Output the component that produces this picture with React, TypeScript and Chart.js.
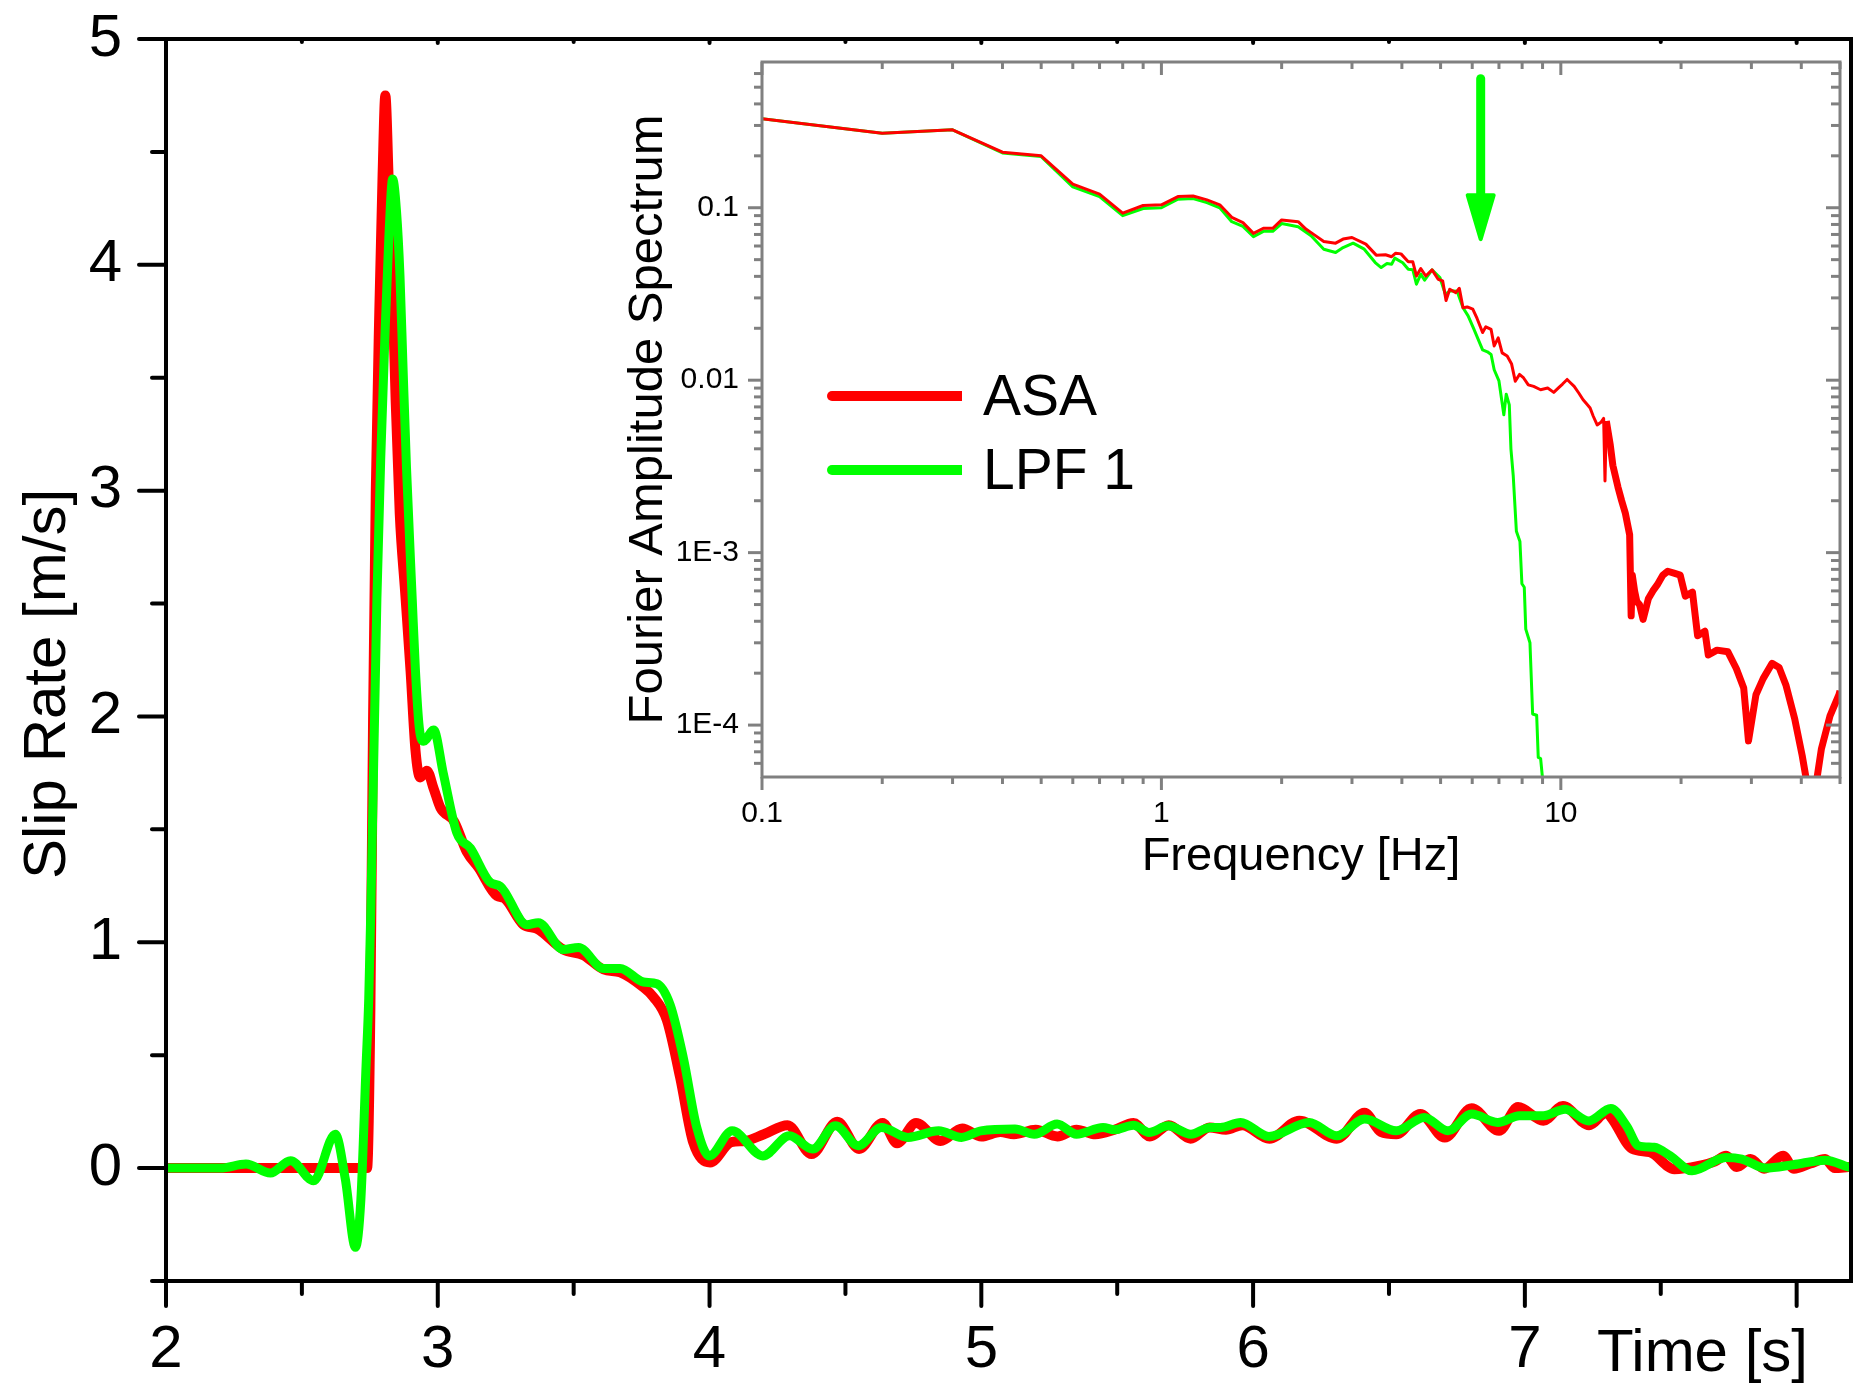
import React, { useEffect, useRef } from "react";
import { Chart, registerables } from "chart.js";

Chart.register(...registerables);

const W = 1853;
const H = 1385;
const FONT = "'Liberation Sans', Arial, Helvetica, sans-serif";
const RED = "#ff0000";
const GREEN = "#00ff00";

// ---------- Main chart: slip rate vs time ----------
const seriesLabels = ["ASA", "LPF 1"];
const mainXTitle = "Time [s]";
const mainYTitle = "Slip Rate [m/s]";

const asaTime = [2.0, 2.3, 2.6, 2.74, 2.752, 2.762, 2.772, 2.785, 2.797, 2.807, 2.82, 2.832, 2.845, 2.86, 2.88, 2.9, 2.918, 2.935, 2.96, 2.985, 3.01, 3.06, 3.107, 3.15, 3.218, 3.243, 3.315, 3.365, 3.462, 3.536, 3.61, 3.671, 3.757, 3.794, 3.843, 3.892, 3.94, 4.002, 4.08, 4.13, 4.2, 4.287, 4.375, 4.47, 4.55, 4.637, 4.69, 4.76, 4.85, 4.93, 5.0, 5.07, 5.12, 5.2, 5.28, 5.35, 5.42, 5.49, 5.56, 5.62, 5.69, 5.77, 5.84, 5.9, 5.96, 6.06, 6.17, 6.308, 6.41, 6.47, 6.527, 6.615, 6.705, 6.804, 6.905, 6.975, 7.068, 7.14, 7.236, 7.3, 7.32, 7.395, 7.46, 7.55, 7.64, 7.7, 7.74, 7.78, 7.83, 7.88, 7.95, 7.99, 8.05, 8.105, 8.14, 8.19];
const asaRate = [0, 0, 0, 0, 0.7, 2.0, 3.0, 3.8, 4.4, 4.75, 4.35, 3.95, 3.4, 2.9, 2.55, 2.2, 1.85, 1.73, 1.76, 1.68, 1.595, 1.535, 1.4, 1.33, 1.205, 1.197, 1.078, 1.06, 0.968, 0.943, 0.88, 0.867, 0.8, 0.757, 0.655, 0.4, 0.113, 0.025, 0.115, 0.12, 0.15, 0.19, 0.062, 0.205, 0.085, 0.2, 0.11, 0.2, 0.12, 0.175, 0.14, 0.16, 0.15, 0.17, 0.14, 0.17, 0.15, 0.17, 0.2, 0.14, 0.19, 0.13, 0.18, 0.17, 0.19, 0.13, 0.21, 0.13, 0.245, 0.16, 0.15, 0.24, 0.135, 0.265, 0.165, 0.27, 0.21, 0.275, 0.19, 0.245, 0.22, 0.085, 0.07, -0.005, 0.01, 0.03, 0.055, 0.005, 0.04, -0.003, 0.055, -0.003, 0.02, 0.04, 0.0, 0.005];

const lpfTime = [2.0, 2.1, 2.2, 2.294, 2.384, 2.458, 2.543, 2.623, 2.66, 2.697, 2.717, 2.736, 2.746, 2.754, 2.776, 2.79, 2.806, 2.82, 2.834, 2.848, 2.861, 2.872, 2.885, 2.906, 2.918, 2.932, 2.948, 2.985, 3.02, 3.07, 3.12, 3.193, 3.23, 3.328, 3.37, 3.462, 3.518, 3.61, 3.671, 3.757, 3.806, 3.855, 3.904, 3.953, 3.999, 4.083, 4.196, 4.294, 4.379, 4.463, 4.547, 4.632, 4.73, 4.843, 4.927, 4.998, 5.124, 5.195, 5.279, 5.35, 5.448, 5.49, 5.56, 5.617, 5.687, 5.771, 5.842, 5.88, 5.954, 6.058, 6.206, 6.308, 6.41, 6.527, 6.63, 6.717, 6.804, 6.9, 6.98, 7.068, 7.148, 7.236, 7.316, 7.374, 7.418, 7.476, 7.535, 7.615, 7.739, 7.798, 7.885, 7.988, 8.105, 8.19];
const lpfRate = [0, 0, 0, 0.018, -0.022, 0.033, -0.056, 0.15, -0.05, -0.351, -0.14, 0.45, 0.75, 1.16, 2.52, 3.14, 3.7, 4.12, 4.38, 4.24, 3.95, 3.55, 3.1, 2.52, 2.2, 1.95, 1.89, 1.94, 1.75, 1.485, 1.417, 1.265, 1.248, 1.078, 1.087, 0.968, 0.977, 0.884, 0.884, 0.824, 0.816, 0.723, 0.486, 0.18, 0.054, 0.165, 0.054, 0.143, 0.084, 0.187, 0.099, 0.18, 0.136, 0.165, 0.136, 0.165, 0.173, 0.15, 0.195, 0.15, 0.18, 0.17, 0.19, 0.158, 0.187, 0.15, 0.18, 0.18, 0.202, 0.14, 0.202, 0.143, 0.217, 0.165, 0.224, 0.165, 0.239, 0.202, 0.232, 0.232, 0.261, 0.209, 0.264, 0.187, 0.099, 0.092, 0.054, -0.012, 0.047, 0.04, 0.0, 0.015, 0.035, 0.005];

const timeTicks = [2, 3, 4, 5, 6, 7, 8];
const timeTickLabels = ["2", "3", "4", "5", "6", "7", ""];
const timeMinorTicks = [2.5, 3.5, 4.5, 5.5, 6.5, 7.5];
const rateTicks = [0, 1, 2, 3, 4, 5];
const rateTickLabels = ["0", "1", "2", "3", "4", "5"];
const rateMinorTicks = [-0.5, 0.5, 1.5, 2.5, 3.5, 4.5];

// ---------- Inset: Fourier amplitude spectrum ----------
const insetXTitle = "Frequency [Hz]";
const insetYTitle = "Fourier Amplitude Spectrum";

const asaFreq = [0.1, 0.2, 0.3, 0.4, 0.5, 0.6, 0.7, 0.8, 0.9, 1.0, 1.1, 1.2, 1.3, 1.4, 1.5, 1.6, 1.7, 1.8, 1.9, 2.0, 2.2, 2.3, 2.4, 2.55, 2.73, 2.85, 3.0, 3.25, 3.45, 3.64, 3.77, 3.86, 3.98, 4.15, 4.26, 4.35, 4.46, 4.59, 4.76, 4.93, 5.06, 5.16, 5.27, 5.46, 5.57, 5.69, 5.83, 6.02, 6.17, 6.37, 6.49, 6.69, 6.81, 6.97, 7.13, 7.34, 7.53, 7.69, 7.88, 8.07, 8.29, 8.55, 8.9, 9.27, 9.6, 9.85, 10.1, 10.37, 10.6, 10.8, 11.1, 11.37, 11.6, 11.84, 12.05, 12.33, 12.6, 12.8, 12.9, 13.0, 13.3, 13.5, 13.9, 14.2, 14.5, 14.87, 15.0, 15.1, 15.3, 15.5, 15.74, 16.07, 16.56, 17.0, 17.43, 18.0, 18.52, 19.2, 19.9, 20.5, 21.36, 22.0, 22.95, 23.4, 24.6, 26.2, 27.5, 28.7, 29.5, 30.8, 32.1, 33.8, 35.2, 36.6, 38.5, 40.2, 41.4, 43.6, 44.9, 47.2, 49.7, 50];
const asaAmp = [0.328, 0.27, 0.283, 0.21, 0.2, 0.137, 0.12, 0.093, 0.103, 0.104, 0.116, 0.117, 0.111, 0.104, 0.088, 0.082, 0.071, 0.076, 0.076, 0.085, 0.083, 0.0752, 0.0703, 0.0637, 0.0623, 0.0658, 0.0672, 0.0615, 0.0531, 0.0534, 0.052, 0.0545, 0.054, 0.0486, 0.0486, 0.0402, 0.0444, 0.0402, 0.0436, 0.0385, 0.0377, 0.029, 0.0337, 0.0322, 0.0341, 0.0263, 0.0266, 0.0258, 0.0228, 0.0189, 0.0204, 0.0197, 0.0158, 0.0176, 0.0144, 0.0138, 0.0124, 0.00987, 0.0108, 0.0103, 0.0094, 0.0092, 0.0088, 0.009, 0.0085, 0.009, 0.0095, 0.0101, 0.0096, 0.0092, 0.0084, 0.0077, 0.0073, 0.0069, 0.0062, 0.0055, 0.0057, 0.006, 0.0026, 0.0058, 0.0042, 0.0032, 0.0024, 0.002, 0.0017, 0.00127, 0.00043, 0.00074, 0.0006, 0.00052, 0.0005, 0.00041, 0.00054, 0.0006, 0.00065, 0.00074, 0.00078, 0.00076, 0.00074, 0.00056, 0.00059, 0.00033, 0.00035, 0.000255, 0.000272, 0.000266, 0.000213, 0.000164, 0.000081, 0.00015, 0.000186, 0.000228, 0.000216, 0.000171, 0.000109, 0.0000667, 0.000045, 0.000046, 0.0000725, 0.000113, 0.00015, 0.000158];

const lpfFreq = [0.1, 0.2, 0.3, 0.4, 0.5, 0.6, 0.7, 0.8, 0.9, 1.0, 1.1, 1.2, 1.3, 1.4, 1.5, 1.6, 1.7, 1.8, 1.9, 2.0, 2.2, 2.37, 2.55, 2.73, 2.85, 3.02, 3.22, 3.43, 3.55, 3.67, 3.77, 3.84, 4.02, 4.15, 4.26, 4.35, 4.46, 4.56, 4.76, 4.98, 5.14, 5.29, 5.5, 5.69, 5.86, 6.04, 6.37, 6.55, 6.69, 6.81, 7.0, 7.2, 7.3, 7.43, 7.5, 7.6, 7.74, 7.9, 7.99, 8.1, 8.17, 8.37, 8.5, 8.7, 8.78, 8.9, 9.0];
const lpfAmp = [0.328, 0.27, 0.283, 0.208, 0.198, 0.132, 0.116, 0.09, 0.099, 0.1, 0.112, 0.113, 0.107, 0.1, 0.083, 0.078, 0.068, 0.073, 0.073, 0.081, 0.0775, 0.0688, 0.0575, 0.055, 0.0588, 0.0623, 0.0575, 0.0481, 0.045, 0.0475, 0.047, 0.051, 0.048, 0.044, 0.0437, 0.036, 0.0412, 0.038, 0.0436, 0.0394, 0.0315, 0.033, 0.0328, 0.0263, 0.0236, 0.0201, 0.015, 0.0146, 0.0141, 0.0115, 0.0099, 0.0063, 0.0083, 0.0072, 0.004, 0.0028, 0.00133, 0.00116, 0.00066, 0.00063, 0.00036, 0.0003, 0.000116, 0.000114, 0.000065, 0.000064, 0.000049];

const freqTicks = [0.1, 1, 10];
const freqTickLabels = ["0.1", "1", "10"];
const freqMinorTicks = [0.2, 0.3, 0.4, 0.5, 0.6, 0.7, 0.8, 0.9, 2, 3, 4, 5, 6, 7, 8, 9, 20, 30, 40, 50];
const ampTicks = [0.0001, 0.001, 0.01, 0.1];
const ampTickLabels = ["1E-4", "1E-3", "0.01", "0.1"];
const ampMinorTicks = [0.00006, 0.00007, 0.00008, 0.00009, 0.0002, 0.0003, 0.0004, 0.0005, 0.0006, 0.0007, 0.0008, 0.0009, 0.002, 0.003, 0.004, 0.005, 0.006, 0.007, 0.008, 0.009, 0.02, 0.03, 0.04, 0.05, 0.06, 0.07, 0.08, 0.09, 0.2, 0.3, 0.4, 0.5, 0.6];

// cut-off marker arrow (frequency, from amplitude, to amplitude)
const arrowFreq = 6.3;
const arrowTop = 0.56;
const arrowTip = 0.064;

type TickSide = { majors: number[]; minors: number[]; majorLen: number; minorLen: number; inward: boolean };
type FrameSpec = {
  id: string;
  color: string;
  lineWidth: number;
  tickWidth: number;
  cap: CanvasLineCap;
  left?: TickSide;
  right?: TickSide;
  top?: TickSide;
  bottom?: TickSide;
};

function framePlugin(spec: FrameSpec) {
  return {
    id: spec.id,
    afterDraw(chart: any) {
      const { ctx, chartArea: a } = chart;
      const xs = chart.scales.x;
      const ys = chart.scales.y;
      ctx.save();
      ctx.strokeStyle = spec.color;
      ctx.lineCap = spec.cap;
      ctx.lineWidth = spec.tickWidth;
      const seg = (x1: number, y1: number, x2: number, y2: number) => {
        ctx.beginPath();
        ctx.moveTo(x1, y1);
        ctx.lineTo(x2, y2);
        ctx.stroke();
      };
      const doSide = (side: TickSide | undefined, which: string) => {
        if (!side) return;
        const all: [number, number][] = [
          ...side.majors.map((v) => [v, side.majorLen] as [number, number]),
          ...side.minors.map((v) => [v, side.minorLen] as [number, number]),
        ];
        for (const [v, len] of all) {
          if (which === "left" || which === "right") {
            const y = ys.getPixelForValue(v);
            const x0 = which === "left" ? a.left : a.right;
            const out = which === "left" ? -1 : 1;
            const d = side.inward ? -out : out;
            seg(x0, y, x0 + d * len, y);
          } else {
            const x = xs.getPixelForValue(v);
            const y0 = which === "top" ? a.top : a.bottom;
            const out = which === "top" ? -1 : 1;
            const d = side.inward ? -out : out;
            seg(x, y0, x, y0 + d * len);
          }
        }
      };
      doSide(spec.left, "left");
      doSide(spec.right, "right");
      doSide(spec.top, "top");
      doSide(spec.bottom, "bottom");
      ctx.lineWidth = spec.lineWidth;
      ctx.lineJoin = "miter";
      ctx.strokeRect(a.left, a.top, a.right - a.left, a.bottom - a.top);
      ctx.restore();
    },
  };
}

const mainTextPlugin = {
  id: "mainText",
  afterDraw(chart: any) {
    const { ctx, chartArea: a } = chart;
    ctx.save();
    ctx.fillStyle = "#000";
    ctx.font = `60px ${FONT}`;
    ctx.textAlign = "right";
    ctx.textBaseline = "alphabetic";
    ctx.fillText(mainXTitle, a.right - 43, a.bottom + 90);
    ctx.translate(65, (a.top + a.bottom) / 2 + 24);
    ctx.rotate(-Math.PI / 2);
    ctx.textAlign = "center";
    ctx.fillText(mainYTitle, 0, 0);
    ctx.restore();
  },
};

const insetTextPlugin = {
  id: "insetText",
  afterDraw(chart: any) {
    const { ctx, chartArea: a } = chart;
    const xs = chart.scales.x;
    const ys = chart.scales.y;
    ctx.save();
    // axis titles
    ctx.fillStyle = "#000";
    ctx.font = `47px ${FONT}`;
    ctx.textAlign = "center";
    ctx.textBaseline = "alphabetic";
    ctx.fillText(insetXTitle, (a.left + a.right) / 2, a.bottom + 93);
    ctx.save();
    ctx.translate(a.left - 100, (a.top + a.bottom) / 2);
    ctx.rotate(-Math.PI / 2);
    ctx.font = `49px ${FONT}`;
    ctx.fillText(insetYTitle, 0, 0);
    ctx.restore();

    // legend
    const ds = chart.data.datasets;
    const legendRows = [0, 1];
    legendRows.forEach((i, row) => {
      const y = 396 + row * 74;
      const x0 = a.left + 70;
      const x1 = a.left + 200;
      ctx.strokeStyle = ds[i].borderColor;
      ctx.lineWidth = 10;
      ctx.lineCap = "butt";
      ctx.beginPath();
      ctx.moveTo(x0, y);
      ctx.lineTo(x1, y);
      ctx.stroke();
      ctx.fillStyle = ds[i].borderColor;
      ctx.beginPath();
      ctx.arc(x0, y, 5, 0, Math.PI * 2);
      ctx.fill();
      ctx.fillStyle = "#000";
      ctx.font = `57px ${FONT}`;
      ctx.textAlign = "left";
      ctx.textBaseline = "middle";
      ctx.fillText(ds[i].label, a.left + 221, y + 3);
    });

    // cut-off arrow
    const ax = xs.getPixelForValue(arrowFreq);
    const ay0 = ys.getPixelForValue(arrowTop);
    const ay1 = ys.getPixelForValue(arrowTip);
    const headLen = 46;
    const headHalf = 13;
    ctx.strokeStyle = GREEN;
    ctx.fillStyle = GREEN;
    ctx.lineWidth = 9;
    ctx.lineCap = "round";
    ctx.beginPath();
    ctx.moveTo(ax, ay0);
    ctx.lineTo(ax, ay1 - headLen + 4);
    ctx.stroke();
    ctx.lineJoin = "round";
    ctx.lineWidth = 4;
    ctx.beginPath();
    ctx.moveTo(ax - headHalf, ay1 - headLen);
    ctx.lineTo(ax + headHalf, ay1 - headLen);
    ctx.lineTo(ax, ay1 - 2);
    ctx.closePath();
    ctx.fill();
    ctx.stroke();
    ctx.restore();
  },
};

function lookupLabel(values: number[], labels: string[], v: number, log: boolean) {
  for (let i = 0; i < values.length; i++) {
    const d = log ? Math.abs(Math.log10(values[i]) - Math.log10(v)) : Math.abs(values[i] - v);
    if (d < 1e-6) return labels[i];
  }
  return "";
}

export default function App() {
  const mainRef = useRef<HTMLCanvasElement>(null);
  const insetRef = useRef<HTMLCanvasElement>(null);

  useEffect(() => {
    const mainChart = new Chart(mainRef.current as HTMLCanvasElement, {
      type: "line",
      data: {
        datasets: [
          {
            label: seriesLabels[0],
            data: asaTime.map((t, i) => ({ x: t, y: asaRate[i] })),
            borderColor: RED,
            backgroundColor: RED,
            borderWidth: 10,
            pointRadius: 0,
            cubicInterpolationMode: "monotone",
            borderJoinStyle: "round",
            borderCapStyle: "round",
            fill: false,
            order: 1,
            clip: 0,
          } as any,
          {
            label: seriesLabels[1],
            data: lpfTime.map((t, i) => ({ x: t, y: lpfRate[i] })),
            borderColor: GREEN,
            backgroundColor: GREEN,
            borderWidth: 9,
            pointRadius: 0,
            cubicInterpolationMode: "monotone",
            borderJoinStyle: "round",
            borderCapStyle: "round",
            fill: false,
            order: 0,
            clip: 0,
          } as any,
        ],
      },
      options: {
        animation: false,
        responsive: false,
        events: [],
        layout: { padding: { top: 39, right: 2, left: 0, bottom: 0 } },
        plugins: { legend: { display: false }, tooltip: { enabled: false } },
        scales: {
          x: {
            type: "linear",
            min: 2,
            max: 8.2,
            grid: { display: false, drawTicks: false },
            border: { display: false },
            afterBuildTicks: (s: any) => {
              s.ticks = timeTicks.map((v) => ({ value: v }));
            },
            afterFit: (s: any) => {
              s.height = 104;
              s.paddingLeft = 0;
              s.paddingRight = 0;
            },
            ticks: {
              autoSkip: false,
              maxRotation: 0,
              minRotation: 0,
              padding: 33,
              color: "#000",
              font: { family: FONT, size: 60 },
              callback: (v: any) => lookupLabel(timeTicks, timeTickLabels, Number(v), false),
            },
          },
          y: {
            type: "linear",
            min: -0.5,
            max: 5,
            grid: { display: false, drawTicks: false },
            border: { display: false },
            afterBuildTicks: (s: any) => {
              s.ticks = rateTicks.map((v) => ({ value: v }));
            },
            afterFit: (s: any) => {
              s.width = 166;
              s.paddingTop = 0;
              s.paddingBottom = 0;
            },
            ticks: {
              autoSkip: false,
              padding: 44,
              color: "#000",
              font: { family: FONT, size: 60 },
              callback: (v: any) => lookupLabel(rateTicks, rateTickLabels, Number(v), false),
            },
          },
        },
      } as any,
      plugins: [
        framePlugin({
          id: "mainFrame",
          color: "#000",
          lineWidth: 4,
          tickWidth: 4,
          cap: "round",
          left: { majors: rateTicks, minors: rateMinorTicks, majorLen: 27, minorLen: 14, inward: false },
          bottom: { majors: timeTicks, minors: timeMinorTicks, majorLen: 25, minorLen: 13, inward: false },
          top: { majors: timeTicks, minors: timeMinorTicks, majorLen: 4, minorLen: 3, inward: true },
        }),
        mainTextPlugin,
      ],
    });

    const insetChart = new Chart(insetRef.current as HTMLCanvasElement, {
      type: "line",
      data: {
        datasets: [
          {
            label: seriesLabels[0],
            data: asaFreq.map((f, i) => ({ x: f, y: asaAmp[i] })),
            borderColor: RED,
            backgroundColor: RED,
            borderWidth: 3,
            pointRadius: 0,
            tension: 0,
            borderJoinStyle: "round",
            fill: false,
            order: 0,
            clip: 0,
            segment: {
              borderWidth: (c: any) => (c.p0.parsed.x >= 13 ? 7 : 3),
            },
          } as any,
          {
            label: seriesLabels[1],
            data: lpfFreq.map((f, i) => ({ x: f, y: lpfAmp[i] })),
            borderColor: GREEN,
            backgroundColor: GREEN,
            borderWidth: 3,
            pointRadius: 0,
            tension: 0,
            borderJoinStyle: "round",
            fill: false,
            order: 1,
            clip: 0,
          } as any,
        ],
      },
      options: {
        animation: false,
        responsive: false,
        events: [],
        layout: { padding: { top: 62, right: 13, left: 0, bottom: 0 } },
        plugins: { legend: { display: false }, tooltip: { enabled: false } },
        scales: {
          x: {
            type: "logarithmic",
            min: 0.1,
            max: 50,
            grid: { display: false, drawTicks: false },
            border: { display: false },
            afterBuildTicks: (s: any) => {
              s.ticks = freqTicks.map((v) => ({ value: v }));
            },
            afterFit: (s: any) => {
              s.height = 608;
              s.paddingLeft = 0;
              s.paddingRight = 0;
            },
            ticks: {
              autoSkip: false,
              maxRotation: 0,
              minRotation: 0,
              padding: 19,
              color: "#000",
              font: { family: FONT, size: 30 },
              callback: (v: any) => lookupLabel(freqTicks, freqTickLabels, Number(v), true),
            },
          },
          y: {
            type: "logarithmic",
            min: 0.00005,
            max: 0.7,
            grid: { display: false, drawTicks: false },
            border: { display: false },
            afterBuildTicks: (s: any) => {
              s.ticks = ampTicks.map((v) => ({ value: v }));
            },
            afterFit: (s: any) => {
              s.width = 762;
              s.paddingTop = 0;
              s.paddingBottom = 0;
            },
            ticks: {
              autoSkip: false,
              padding: 23,
              color: "#000",
              font: { family: FONT, size: 30 },
              callback: (v: any) => lookupLabel(ampTicks, ampTickLabels, Number(v), true),
            },
          },
        },
      } as any,
      plugins: [
        framePlugin({
          id: "insetFrame",
          color: "#808080",
          lineWidth: 3,
          tickWidth: 3,
          cap: "butt",
          left: { majors: ampTicks, minors: ampMinorTicks, majorLen: 14, minorLen: 8, inward: false },
          right: { majors: ampTicks, minors: ampMinorTicks, majorLen: 14, minorLen: 9, inward: true },
          bottom: { majors: freqTicks, minors: freqMinorTicks, majorLen: 13, minorLen: 7, inward: false },
          top: { majors: freqTicks, minors: freqMinorTicks, majorLen: 13, minorLen: 7, inward: true },
        }),
        insetTextPlugin,
      ],
    });

    return () => {
      mainChart.destroy();
      insetChart.destroy();
    };
  }, []);

  const canvasStyle: React.CSSProperties = { position: "absolute", left: 0, top: 0, width: W, height: H };
  return (
    <div style={{ position: "absolute", left: 0, top: 0, width: W, height: H, background: "#ffffff" }}>
      <canvas ref={mainRef} width={W} height={H} style={canvasStyle} />
      <canvas ref={insetRef} width={W} height={H} style={canvasStyle} />
    </div>
  );
}
